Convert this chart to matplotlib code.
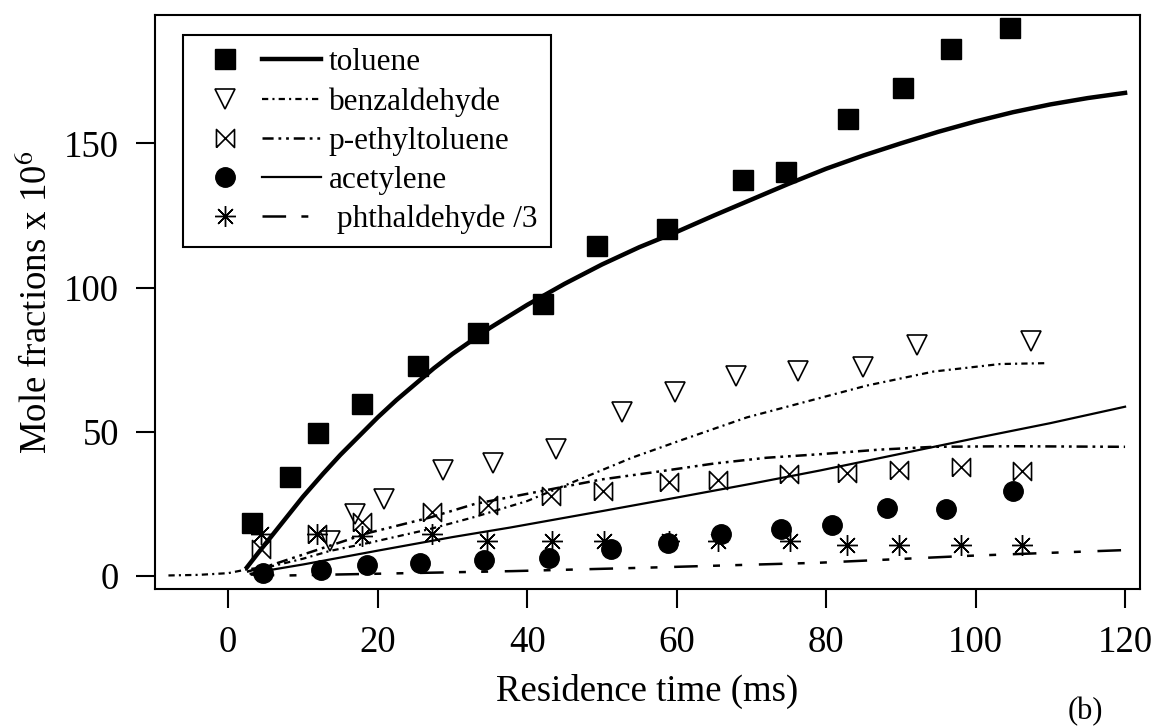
import matplotlib
matplotlib.use("Agg")

import matplotlib.pyplot as plt
from matplotlib.path import Path
from matplotlib.legend_handler import HandlerTuple

plt.rcParams["font.family"] = ["Liberation Serif", "DejaVu Serif"]
plt.rcParams["mathtext.fontset"] = "stix"
plt.rcParams["lines.scale_dashes"] = False

# measured points
toluene_t = [3.2, 8.2, 12.0, 17.9, 25.4, 33.4, 42.1, 49.4, 58.7, 68.9, 74.6, 82.9, 90.3, 96.7, 104.6]
toluene_y = [18.5, 34.5, 49.5, 59.6, 72.9, 84.1, 94.2, 114.4, 120.4, 137.4, 139.9, 158.4, 169.2, 182.8, 190.1]

benz_t = [13.6, 17.0, 20.8, 28.8, 35.4, 43.9, 52.7, 59.8, 68.0, 76.2, 84.9, 92.1, 107.4]
benz_y = [12.2, 21.5, 26.7, 36.8, 39.2, 44.2, 57.0, 63.9, 69.2, 71.2, 72.3, 80.2, 81.6]

pet_t = [4.4, 11.9, 17.9, 27.2, 34.7, 43.2, 50.2, 59.0, 65.5, 75.1, 82.8, 89.8, 98.0, 106.2]
pet_y = [9.3, 14.5, 18.6, 22.1, 24.7, 27.9, 29.6, 32.5, 33.4, 35.5, 35.7, 36.6, 37.8, 36.3]

acet_t = [4.6, 12.4, 18.6, 25.6, 34.2, 42.9, 51.2, 58.8, 65.9, 74.0, 80.8, 88.2, 96.0, 105.0]
acet_y = [1.2, 2.1, 3.7, 4.6, 5.5, 6.2, 9.3, 11.4, 14.5, 16.3, 17.8, 23.6, 23.3, 29.4]

phth_t = [4.4, 11.9, 17.9, 27.2, 34.6, 43.3, 50.3, 59.0, 65.6, 75.2, 82.8, 89.8, 98.1, 106.2]
phth_y = [14.5, 14.5, 14.0, 14.5, 12.2, 12.2, 12.2, 12.2, 12.2, 12.2, 10.7, 10.7, 10.7, 10.7]

# model curves
tol_fit_t = [2.5, 4, 6, 8, 10, 12.7, 15, 17.5, 20, 22.5, 25, 27.5, 30, 32.5, 35, 37.5, 40,
             45, 50, 55, 60, 65, 70, 75, 80, 85, 90, 95, 100, 105, 110, 115, 120]
tol_fit_y = [3, 8, 14.5, 21, 27.5, 35.5, 42, 48.5, 55, 61, 66.5, 72, 77, 81.5, 86, 90, 94,
             101.3, 108, 114, 119.3, 125, 130.5, 136, 141.2, 145.8, 150, 154, 157.6, 160.8,
             163.5, 165.7, 167.5]

benz_fit_t = [-8, -4, 0, 2.5, 6, 10, 13.6, 19, 27, 33, 40, 47, 54, 60.5, 69.4, 79, 85.4, 94.4, 103.3, 109.5]
benz_fit_y = [0.2, 0.4, 1.0, 2.3, 3.5, 6.0, 8.7, 11.6, 16.3, 20.5, 26.0, 33.5, 41.0, 47.0, 55.0, 61.6, 66.0, 70.9, 73.5, 73.8]

pet_fit_t = [2.5, 6, 13, 19, 27, 33, 38, 45, 50, 57, 65, 72, 79, 87, 94.4, 105, 120]
pet_fit_y = [1.5, 4.0, 10.0, 15.1, 20.3, 25.0, 27.5, 31.0, 33.5, 36.0, 39.0, 41.0, 42.2, 43.8, 44.8, 45.0, 44.8]

acet_fit_t = [3, 4.7, 10, 20, 30, 37.7, 50, 60, 70, 79.2, 90, 100, 110, 120]
acet_fit_y = [0.8, 1.7, 4.0, 8.8, 13.5, 16.8, 22.5, 27.2, 32.0, 36.6, 42.4, 47.8, 53.0, 58.7]

phth_fit_t = [3, 8, 16, 28, 38, 56, 79, 99, 120]
phth_fit_y = [0.5, 0.2, 0.6, 1.2, 1.7, 2.9, 4.6, 7.0, 9.0]

labels = ["toluene", "benzaldehyde", "p-ethyltoluene", "acetylene", " phthaldehyde /3"]

bowtie = Path([(-1, -1), (-1, 1), (1, -1), (1, 1), (-1, -1)],
              [Path.MOVETO, Path.LINETO, Path.LINETO, Path.LINETO, Path.LINETO])

fig = plt.figure(figsize=(11.57, 7.26), dpi=100)
ax = fig.add_axes([155 / 1157, 1 - 589.3 / 726, 985 / 1157, 574.3 / 726])

# symbols
m_tol, = ax.plot(toluene_t, toluene_y, ls="none", marker="s", ms=15, color="black")
m_benz, = ax.plot(benz_t, benz_y, ls="none", marker="v", ms=14, mfc="white",
                  mec="black", mew=1.2)
m_pet, = ax.plot(pet_t, pet_y, ls="none", marker=bowtie, ms=13, mfc="none",
                 mec="black", mew=1.2)
m_acet, = ax.plot(acet_t, acet_y, ls="none", marker="o", ms=14, color="black")
m_phth, = ax.plot(phth_t, phth_y, ls="none", marker=(8, 2, 0), ms=15,
                  color="black", mew=1.0)

# fitted lines
l_tol, = ax.plot(tol_fit_t, tol_fit_y, color="black", lw=3.2)
l_benz, = ax.plot(benz_fit_t, benz_fit_y, color="black", lw=1.6,
                  dashes=(4.5, 3, 1.5, 3))
l_pet, = ax.plot(pet_fit_t, pet_fit_y, color="black", lw=1.8,
                 dashes=(8, 3.5, 2, 3.5, 2, 3.5))
l_acet, = ax.plot(acet_fit_t, acet_fit_y, color="black", lw=1.6)
l_phth, = ax.plot(phth_fit_t, phth_fit_y, color="black", lw=1.8,
                  dashes=(17, 11, 5, 11, 5, 12))

ax.set_xlim(-9.8, 122)
ax.set_ylim(-4.6, 194.5)
ax.set_xticks([0, 20, 40, 60, 80, 100, 120])
ax.set_yticks([0, 50, 100, 150])
ax.tick_params(direction="out", length=14, width=1.5, labelsize=26.5, pad=12,
               top=False, right=False)
for sp in ax.spines.values():
    sp.set_linewidth(1.5)

ax.set_xlabel("Residence time (ms)", fontsize=26.5, labelpad=10)
ax.set_ylabel("Mole fractions x 10$^6$", fontsize=26.5, labelpad=7)

handles = [(m_tol, l_tol), (m_benz, l_benz), (m_pet, l_pet),
           (m_acet, l_acet), (m_phth, l_phth)]
leg = ax.legend(handles, labels, loc="upper left", bbox_to_anchor=(0.0284, 0.965),
                borderaxespad=0, fontsize=22.5, numpoints=1, handlelength=4.0,
                handletextpad=0.25, borderpad=0.42, labelspacing=0.32,
                fancybox=False, framealpha=1, edgecolor="black",
                handler_map={tuple: HandlerTuple(ndivide=None, pad=0.24)})
leg.get_frame().set_linewidth(1.5)

fig.text(1085 / 1157, 1 - 712 / 726, "(b)", fontsize=22, ha="center", va="center")

fig.savefig("out.png", dpi=100, facecolor="white")
